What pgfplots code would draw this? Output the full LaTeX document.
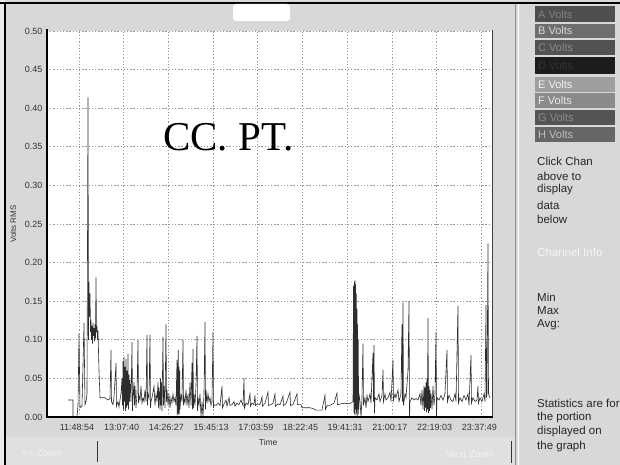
\documentclass[border=0pt]{standalone}
\usepackage{fontspec}
\setmainfont{Liberation Sans}
\newfontfamily\serifface{Liberation Serif}
\usepackage{pgfplots}
\pgfplotsset{compat=1.18}

\definecolor{panelbg}{RGB}{216,216,216}
\definecolor{trace}{RGB}{45,45,45}
\definecolor{gridc}{RGB}{150,150,150}
\definecolor{btnA}{RGB}{78,78,78}
\definecolor{btnB}{RGB}{110,110,110}
\definecolor{btnC}{RGB}{82,82,82}
\definecolor{btnD}{RGB}{28,28,28}
\definecolor{btnE}{RGB}{158,158,158}
\definecolor{btnF}{RGB}{138,138,138}
\definecolor{btnG}{RGB}{84,84,84}
\definecolor{btnH}{RGB}{102,102,102}

\begin{document}
\begin{tikzpicture}
% window background (pixel units, y downwards)
\begin{scope}[x=1pt,y=-1pt]
\path[use as bounding box] (0,0) rectangle (620,465);
\fill[panelbg] (0,0) rectangle (620,465);
\fill[black!8] (0,0) rectangle (5,465);
\fill[black!12] (5,437) rectangle (515,465);
\draw[black!45, line width=0.8pt] (515,3) -- (515,465);
\draw[white, line width=0.8pt] (518,3) -- (518,465);
\draw[black, line width=2pt] (0,3) -- (620,3);
\draw[black, line width=1.5pt] (5,3) -- (5,465);
\fill[white, rounded corners=3pt] (233,4) rectangle (290,21);
\end{scope}

\begin{axis}[
  at={(47pt,-417pt)}, anchor=south west,
  scale only axis, width=445pt, height=386pt,
  xmin=10.875, xmax=23.945, ymin=0, ymax=0.5,
  axis line style={draw=none},
  axis background/.style={fill=white},
  xtick={11.815,13.1278,14.4408,15.7536,17.0664,18.3792,19.6919,21.0047,22.3175,23.6303},
  xticklabels={11:48:54,13:07:40,14:26:27,15:45:13,17:03:59,18:22:45,19:41:31,21:00:17,22:19:03,23:37:49},
  ytick={0,0.05,0.1,0.15,0.2,0.25,0.3,0.35,0.4,0.45,0.5},
  yticklabels={0.00,0.05,0.10,0.15,0.20,0.25,0.30,0.35,0.40,0.45,0.50},
  major tick length=0pt,
  grid=major,
  grid style={gridc, line width=0.7pt, dash pattern=on 1.3pt off 1.9pt},
  tick label style={font=\fontsize{9}{10}\selectfont, text=black!80},
  xticklabel style={yshift=-4pt, xshift=-2pt},
  yticklabel style={xshift=-1pt},
  xlabel={Time}, ylabel={Volts RMS},
  xlabel style={at={(axis description cs:0.497,-0.067)}, anchor=center, font=\fontsize{8.5}{9}\selectfont, text=black!80},
  ylabel style={at={(axis description cs:-0.076,0.5)}, anchor=center, font=\fontsize{8}{9}\selectfont, text=black!80},
]
\addplot[trace, line width=0.6pt, mark=none] coordinates {
(11.492,0.022) (11.639,0.022) (11.639,0.000) (11.756,0.000) (11.786,0.015) (11.815,0.108) (11.844,0.012) (11.903,0.014) (11.962,0.122) (11.991,0.016) (12.021,0.020) (12.050,0.030) (12.079,0.414) (12.094,0.100) (12.109,0.175) (12.124,0.130) (12.138,0.160) (12.153,0.110) (12.168,0.125) (12.182,0.100) (12.197,0.118) (12.212,0.095) (12.226,0.122) (12.241,0.105) (12.256,0.115) (12.270,0.098) (12.285,0.120) (12.300,0.102) (12.314,0.181) (12.329,0.110) (12.344,0.118) (12.358,0.100) (12.373,0.112) (12.402,0.060) (12.432,0.025) (12.578,0.025) (12.667,0.022) (12.725,0.024) (12.755,0.087) (12.769,0.020) (12.814,0.016) (12.843,0.026) (12.902,0.070) (12.916,0.014) (12.960,0.020) (12.990,0.013) (13.019,0.022) (13.048,0.030) (13.078,0.050) (13.093,0.015) (13.107,0.072) (13.122,0.010) (13.137,0.078) (13.151,0.020) (13.166,0.065) (13.181,0.008) (13.195,0.075) (13.210,0.012) (13.225,0.060) (13.239,0.015) (13.254,0.082) (13.269,0.010) (13.284,0.055) (13.298,0.020) (13.313,0.048) (13.342,0.020) (13.372,0.097) (13.386,0.008) (13.401,0.025) (13.430,0.045) (13.445,0.015) (13.460,0.040) (13.489,0.012) (13.518,0.030) (13.548,0.100) (13.562,0.018) (13.577,0.028) (13.607,0.022) (13.636,0.040) (13.665,0.018) (13.695,0.025) (13.724,0.020) (13.753,0.035) (13.783,0.020) (13.812,0.106) (13.827,0.015) (13.842,0.030) (13.871,0.025) (13.900,0.106) (13.915,0.012) (13.930,0.020)
(13.959,0.025) (14.018,0.040) (14.047,0.015) (14.077,0.030) (14.106,0.020) (14.135,0.045) (14.150,0.012) (14.165,0.038) (14.194,0.010) (14.209,0.050) (14.224,0.015) (14.238,0.045) (14.253,0.008) (14.282,0.104) (14.297,0.015) (14.312,0.040) (14.341,0.012) (14.370,0.120) (14.385,0.020) (14.400,0.035) (14.429,0.015) (14.458,0.030) (14.488,0.012) (14.517,0.025) (14.546,0.018) (14.576,0.030) (14.605,0.020) (14.635,0.025) (14.664,0.015) (14.693,0.074) (14.702,0.002) (14.711,0.070) (14.723,0.005) (14.731,0.087) (14.740,0.003) (14.752,0.065) (14.764,0.004) (14.776,0.060) (14.781,0.010) (14.811,0.030) (14.840,0.020) (14.870,0.100) (14.884,0.015) (14.899,0.025) (14.928,0.018) (14.958,0.035) (14.987,0.015) (15.016,0.030) (15.046,0.012) (15.075,0.045) (15.105,0.015) (15.134,0.070) (15.149,0.010) (15.163,0.088) (15.178,0.012) (15.193,0.030) (15.222,0.015) (15.251,0.040) (15.281,0.105) (15.295,0.008) (15.310,0.025) (15.339,0.015) (15.369,0.030) (15.398,0.000) (15.428,0.020) (15.457,0.000) (15.486,0.030) (15.516,0.123) (15.530,0.010) (15.545,0.035) (15.574,0.018) (15.604,0.030) (15.633,0.020) (15.662,0.025) (15.692,0.015) (15.721,0.020) (15.751,0.110) (15.765,0.012) (15.780,0.016)
(15.839,0.015) (15.898,0.018) (15.956,0.015) (16.015,0.040) (16.030,0.012) (16.074,0.017) (16.133,0.022) (16.162,0.014) (16.221,0.025) (16.250,0.015) (16.309,0.016) (16.367,0.020) (16.397,0.014) (16.455,0.018) (16.514,0.016) (16.573,0.022) (16.632,0.015) (16.661,0.050) (16.676,0.012) (16.720,0.018) (16.779,0.016) (16.837,0.030) (16.852,0.014) (16.896,0.018) (16.955,0.016) (16.984,0.028) (16.999,0.015) (17.072,0.017) (17.131,0.016) (17.190,0.026) (17.204,0.014) (17.278,0.018) (17.366,0.032) (17.380,0.015) (17.454,0.016) (17.513,0.018) (17.571,0.030) (17.586,0.014) (17.660,0.017) (17.718,0.016) (17.806,0.027) (17.821,0.015) (17.894,0.017) (18.012,0.032) (18.027,0.015) (18.100,0.016) (18.217,0.030) (18.232,0.016) (18.335,0.016) (18.364,0.012) (18.599,0.012) (18.687,0.011) (18.776,0.009) (18.952,0.009) (19.040,0.028) (19.055,0.010) (19.099,0.015) (19.187,0.015) (19.304,0.018) (19.392,0.031) (19.407,0.016) (19.510,0.017) (19.627,0.018) (19.716,0.017) (19.804,0.018) (19.863,0.020)
(19.877,0.170) (19.892,0.005) (19.901,0.175) (19.910,0.003) (19.921,0.177) (19.930,0.010) (19.939,0.172) (19.951,0.002) (19.959,0.160) (19.968,0.005) (19.980,0.140) (19.989,0.001) (19.998,0.120) (20.009,0.010) (20.018,0.100) (20.027,0.004) (20.039,0.030) (20.068,0.020) (20.098,0.000) (20.127,0.025) (20.156,0.095) (20.171,0.015) (20.215,0.025) (20.244,0.012) (20.274,0.028) (20.303,0.020) (20.362,0.030) (20.391,0.018) (20.450,0.083) (20.465,0.020) (20.479,0.093) (20.494,0.005) (20.509,0.025) (20.567,0.022) (20.626,0.030) (20.655,0.020) (20.714,0.028) (20.744,0.061) (20.758,0.020) (20.802,0.030) (20.832,0.022) (20.890,0.025) (20.949,0.032) (20.979,0.020) (21.037,0.074) (21.052,0.022) (21.096,0.030) (21.125,0.025) (21.184,0.035) (21.213,0.020) (21.272,0.030) (21.301,0.120) (21.316,0.020) (21.331,0.148) (21.345,0.015) (21.390,0.030) (21.419,0.025) (21.478,0.060) (21.507,0.150) (21.522,0.000) (21.536,0.020) (21.595,0.025) (21.654,0.022) (21.713,0.024) (21.771,0.022) (21.830,0.030) (21.859,0.015) (21.889,0.035) (21.918,0.010) (21.948,0.040) (21.962,0.008) (21.977,0.038) (21.992,0.012) (22.006,0.045) (22.021,0.006) (22.036,0.050) (22.050,0.010) (22.065,0.128) (22.080,0.005) (22.095,0.040) (22.109,0.008) (22.124,0.035) (22.139,0.012) (22.153,0.030) (22.183,0.010) (22.212,0.040) (22.241,0.015) (22.271,0.030) (22.300,0.110) (22.315,0.000) (22.330,0.025) (22.388,0.022) (22.447,0.028) (22.506,0.022) (22.564,0.030) (22.623,0.087) (22.638,0.020) (22.682,0.028) (22.741,0.022) (22.799,0.020) (22.858,0.030) (22.888,0.020) (22.946,0.144) (22.961,0.018) (23.005,0.025) (23.064,0.020) (23.123,0.028) (23.181,0.022) (23.240,0.030) (23.269,0.015) (23.328,0.080) (23.343,0.018) (23.387,0.025) (23.446,0.020) (23.504,0.022) (23.534,0.040) (23.548,0.018) (23.592,0.025) (23.651,0.020) (23.710,0.030) (23.739,0.020) (23.769,0.145) (23.783,0.025) (23.798,0.030) (23.827,0.225) (23.842,0.030) (23.886,0.025)
};
\end{axis}

% plot frame, overlay text and the side panel
\begin{scope}[x=1pt,y=-1pt]
\draw[black!75, line width=1pt] (492,30) -- (492,417);
\draw[black, line width=2pt] (47,29) -- (47,418);
\draw[black, line width=2pt] (46,417) -- (493,417);
\node[font=\serifface\fontsize{41}{41}\selectfont, anchor=base west, inner sep=0pt] at (163,150) {CC. PT.};

\draw[black!80, line width=1pt] (97,441) -- (97,462);
\draw[black!80, line width=1pt] (511,441) -- (511,463);
\node[font=\fontsize{10}{11}\selectfont, text=black!5, anchor=center] at (42,453) {{<}{<} Zoom};
\node[font=\fontsize{10}{11}\selectfont, text=black!5, anchor=center] at (470,454) {Next Zoom};

\tikzset{btn/.style={font=\fontsize{11}{12}\selectfont, anchor=west, inner sep=0pt}}
\fill[btnA] (535,6) rectangle (615,22);   \node[btn, text=black!50] at (538,14.5) {A Volts};
\fill[btnB] (535,24) rectangle (615,38);  \node[btn, text=black!15] at (538,31) {B Volts};
\fill[btnC] (535,40) rectangle (615,55);  \node[btn, text=black!45] at (538,47.5) {C Volts};
\fill[btnD] (535,57) rectangle (615,74);  \node[btn, text=black!80] at (538,65.5) {D Volts};
\fill[btnE] (535,77) rectangle (615,92);  \node[btn, text=black!5] at (538,84.5) {E Volts};
\fill[btnF] (535,93) rectangle (615,108); \node[btn, text=black!8] at (538,100.5) {F Volts};
\fill[btnG] (535,110) rectangle (615,125); \node[btn, text=black!45] at (538,117.5) {G Volts};
\fill[btnH] (535,127) rectangle (615,142); \node[btn, text=black!25] at (538,134.5) {H Volts};

\tikzset{ptxt/.style={font=\fontsize{11.5}{12}\selectfont, anchor=west, inner sep=0pt, text=black!85}}
\node[ptxt] at (537,161) {Click Chan};
\node[ptxt] at (537,176) {above to};
\node[ptxt] at (537,190) {display};
\node[ptxt] at (537,205) {data};
\node[ptxt] at (537,219) {below};
\node[ptxt, text=black!4] at (537,252) {Channel Info};
\node[ptxt] at (537,297) {Min};
\node[ptxt] at (537,311) {Max};
\node[ptxt] at (537,325) {Avg:};
\node[ptxt] at (537,403) {Statistics are for};
\node[ptxt] at (537,418) {the portion};
\node[ptxt] at (537,432) {displayed on};
\node[ptxt] at (537,447) {the graph};
\end{scope}
\end{tikzpicture}
\end{document}
